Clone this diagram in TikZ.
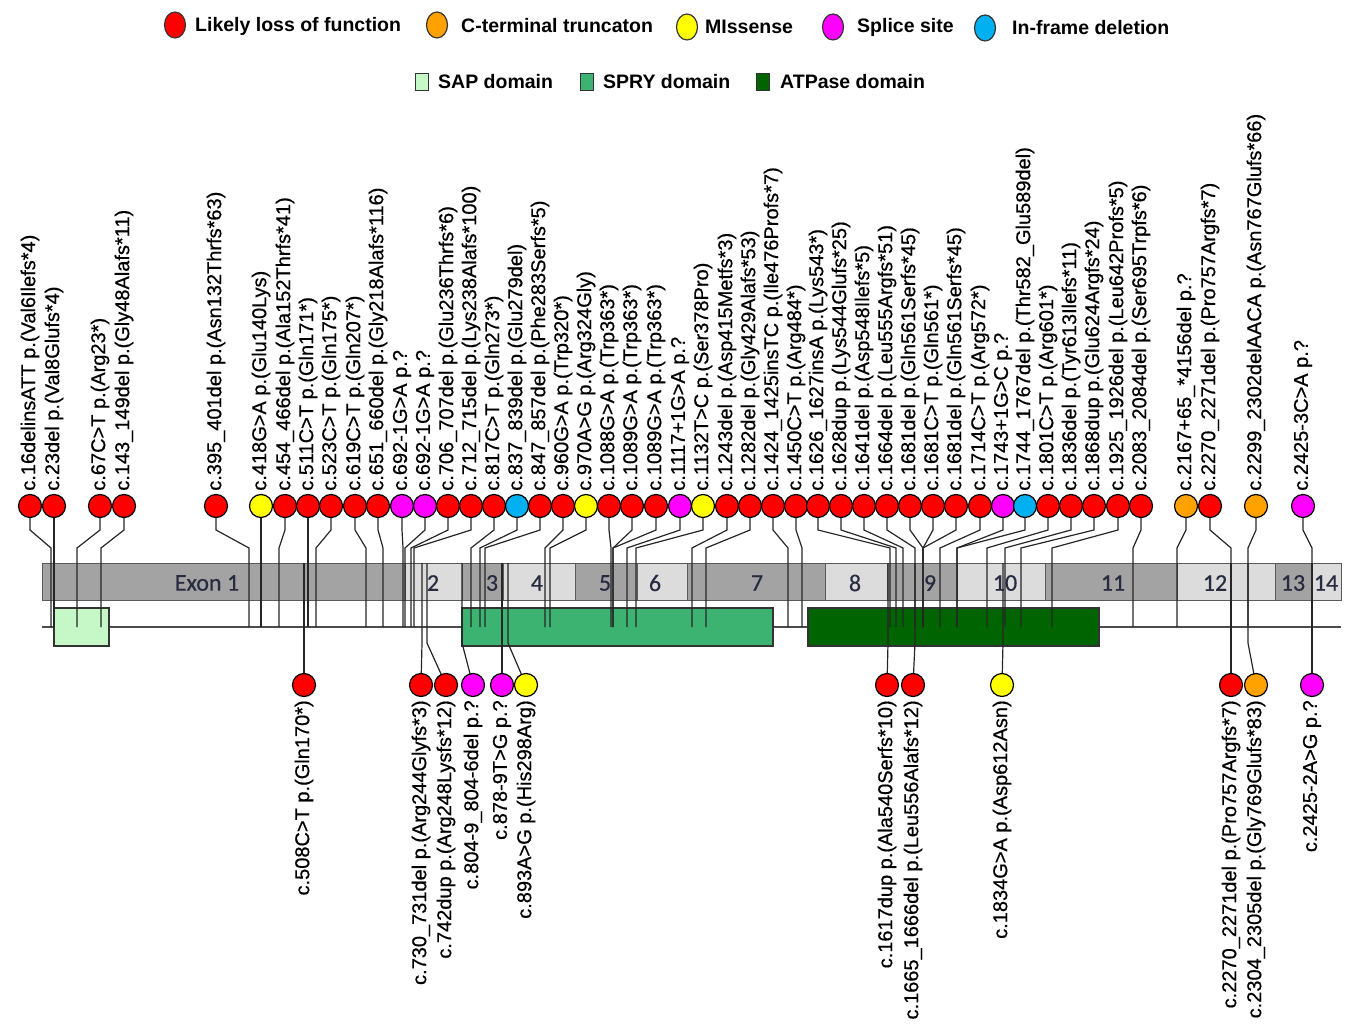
\documentclass[tikz,border=0pt]{standalone}
\usepackage{fontspec}
\setmainfont{Liberation Sans}
\newfontfamily\labfont[FakeBold=0.6]{Liberation Sans}
\newfontfamily\exonfont[FakeBold=0.4]{Carlito}
\usetikzlibrary{shapes.geometric}
\definecolor{lof}{HTML}{FF0000}
\definecolor{ctt}{HTML}{FFA200}
\definecolor{mis}{HTML}{FFFF00}
\definecolor{spl}{HTML}{FF00FF}
\definecolor{ifd}{HTML}{00B0F0}
\definecolor{sapgreen}{HTML}{C6F7C6}
\definecolor{sprygreen}{HTML}{3CB371}
\definecolor{atpgreen}{HTML}{006400}
\definecolor{exdark}{HTML}{A3A3A3}
\definecolor{exlight}{HTML}{DCDCDC}
\definecolor{exedge}{HTML}{5A5A5A}
\definecolor{exink}{HTML}{262B40}
\pgfdeclarelayer{bars}
\pgfdeclarelayer{links}
\pgfsetlayers{bars,links,main}
\newcommand\mutfont{\labfont\fontsize{20}{24}\selectfont}
\newcommand\legfont{\fontsize{19.5}{23}\selectfont\bfseries}
\begin{document}
\begin{tikzpicture}[x=1pt, y=-1pt,
    mut/.style={circle, draw=black, line width=1.2pt, minimum size=23pt, inner sep=0pt},
    toplab/.style={rotate=90, anchor=west, inner sep=0pt, font=\mutfont},
    botlab/.style={rotate=90, anchor=east, inner sep=0pt, font=\mutfont},
    link/.style={draw=black!85, line width=1.2pt},
    exonlab/.style={font=\exonfont\fontsize{24}{28}\selectfont, text=exink, inner sep=0pt},
    legdot/.style={ellipse, draw=black!80, line width=1.2pt, minimum width=21pt,
                   minimum height=26pt, inner sep=0pt},
    legbox/.style={rectangle, draw=black!80, line width=1.2pt, minimum width=13pt,
                   minimum height=17pt, inner sep=0pt},
    legtext/.style={anchor=west, inner sep=0pt, font=\legfont}]
  \useasboundingbox (0,0) rectangle (1346,1024);

  % legend
  \node[legdot, fill=lof] (dlof) at (175,25) {};
  \node[legtext] (tlof) at (195,26) {Likely loss of function};
  \node[legdot, fill=ctt] (dctt) at (437,25) {};
  \node[legtext] (tctt) at (461,26) {C-terminal truncaton};
  \node[legdot, fill=mis] (dmis) at (687,27) {};
  \node[legtext] (tmis) at (705,27) {MIssense};
  \node[legdot, fill=spl] (dspl) at (833,27) {};
  \node[legtext] (tspl) at (857,27) {Splice site};
  \node[legdot, fill=ifd] (difd) at (985,28) {};
  \node[legtext] (tifd) at (1012,28) {In-frame deletion};
  \node[legbox, fill=sapgreen] (bsap) at (422,82) {};
  \node[legtext] (tsap) at (438,82) {SAP domain};
  \node[legbox, fill=sprygreen] (bspry) at (587,82) {};
  \node[legtext] (tspry) at (603,82) {SPRY domain};
  \node[legbox, fill=atpgreen] (batp) at (763,82) {};
  \node[legtext] (tatp) at (780,82) {ATPase domain};

  % exons and domains
  \begin{pgfonlayer}{bars}
    \draw[line width=1.2pt, draw=black!70] (42,627) -- (1341,627);
    \foreach \k/\a/\b/\sh/\lx/\lab in {1/42/405/exdark/207/{Exon 1}, 2/405/462/exlight/433/2,
        3/462/503/exdark/492/3, 4/503/575/exlight/537/4, 5/575/637/exdark/605/5,
        6/637/687/exlight/655/6, 7/687/825/exdark/757/7, 8/825/887/exlight/855/8,
        9/887/957/exdark/930/9, 10/957/1045/exlight/1005/10, 11/1045/1177/exdark/1113/11,
        12/1177/1275/exlight/1215/12, 13/1275/1312/exdark/1293/13, 14/1312/1341/exlight/1326/14}{
      \filldraw[fill=\sh, draw=exedge, line width=0.8pt] (\a,563) rectangle (\b,600);
      \node[exonlab] (ex\k) at (\lx,583) {\lab};
    }
    \filldraw[fill=sapgreen, draw=black!80, line width=1.2pt] (54,608) rectangle (109,646);
    \filldraw[fill=sprygreen, draw=black!80, line width=1.2pt] (462,608) rectangle (773,646);
    \filldraw[fill=atpgreen, draw=black!80, line width=1.2pt] (808,608) rectangle (1099,646);
  \end{pgfonlayer}

  % variants above the gene
  \foreach \i/\x/\xb/\col/\txt in {
      1/30/51/lof/{c.16delinsATT p.(Val6Ilefs*4)},
      2/54/54/lof/{c.23del p.(Val8Glufs*4)},
      3/100/77/lof/{c.67C>T p.(Arg23*)},
      4/124/101/lof/{c.143\_149del p.(Gly48Alafs*11)},
      5/216/249/lof/{c.395\_401del p.(Asn132Thrfs*63)},
      6/261/261/mis/{c.418G>A p.(Glu140Lys)},
      7/285/279/lof/{c.454\_466del p.(Ala152Thrfs*41)},
      8/308/308/lof/{c.511C>T p.(Gln171*)},
      9/331/316/lof/{c.523C>T p.(Gln175*)},
      10/355/366/lof/{c.619C>T p.(Gln207*)},
      11/378/383/lof/{c.651\_660del p.(Gly218Alafs*116)},
      12/402/403/spl/{c.692-1G>A p.?},
      13/425/405/spl/{c.692-1G>A p.?},
      14/448/411/lof/{c.706\_707del p.(Glu236Thrfs*6)},
      15/471/414/lof/{c.712\_715del p.(Lys238Alafs*100)},
      16/494/471/lof/{c.817C>T p.(Gln273*)},
      17/517/480/ifd/{c.837\_839del p.(Glu279del)},
      18/540/485/lof/{c.847\_857del p.(Phe283Serfs*5)},
      19/563/545/lof/{c.960G>A p.(Trp320*)},
      20/586/550/mis/{c.970A>G p.(Arg324Gly)},
      21/609/611/lof/{c.1088G>A p.(Trp363*)},
      22/632/613/lof/{c.1089G>A p.(Trp363*)},
      23/656/613/lof/{c.1089G>A p.(Trp363*)},
      24/680/627/spl/{c.1117+1G>A p.?},
      25/703/636/mis/{c.1132T>C p.(Ser378Pro)},
      26/727/692/lof/{c.1243del p.(Asp415Metfs*3)},
      27/750/706/lof/{c.1282del p.(Gly429Alafs*53)},
      28/773/788/lof/{c.1424\_1425insTC p.(Ile476Profs*7)},
      29/796/802/lof/{c.1450C>T p.(Arg484*)},
      30/818/890/lof/{c.1626\_1627insA p.(Lys543*)},
      31/841/896/lof/{c.1628dup p.(Lys544Glufs*25)},
      32/864/903/lof/{c.1641del p.(Asp548Ilefs*5)},
      33/887/915/lof/{c.1664del p.(Leu555Argfs*51)},
      34/910/923/lof/{c.1681del p.(Gln561Serfs*45)},
      35/933/923/lof/{c.1681C>T p.(Gln561*)},
      36/956/923/lof/{c.1681del p.(Gln561Serfs*45)},
      37/980/940/lof/{c.1714C>T p.(Arg572*)},
      38/1003/957/spl/{c.1743+1G>C p.?},
      39/1025/957/ifd/{c.1744\_1767del p.(Thr582\_Glu589del)},
      40/1048/987/lof/{c.1801C>T p.(Arg601*)},
      41/1071/1005/lof/{c.1836del p.(Tyr613Ilefs*11)},
      42/1094/1021/lof/{c.1868dup p.(Glu624Argfs*24)},
      43/1118/1052/lof/{c.1925\_1926del p.(Leu642Profs*5)},
      44/1141/1133/lof/{c.2083\_2084del p.(Ser695Trpfs*6)},
      45/1186/1177/ctt/{c.2167+65\_*4156del p.?},
      46/1210/1231/lof/{c.2270\_2271del p.(Pro757Argfs*7)},
      47/1256/1248/ctt/{c.2299\_2302delAACA p.(Asn767Glufs*66)},
      48/1303/1312/spl/{c.2425-3C>A p.?}}{
    \node[mut, fill=\col] (t\i) at (\x,506) {};
    \node[toplab] (tl\i) at ([yshift=3pt]t\i.north) {\txt};
    \coordinate (p\i) at (\xb,627);
    \begin{pgfonlayer}{links}
      \draw[link] (t\i.center) -- (\x,530) -- (\xb,548) -- (p\i);
    \end{pgfonlayer}
  }

  % variants below the gene
  \foreach \j/\x/\xq/\col/\txt in {
      1/304/304/lof/{c.508C>T p.(Gln170*)},
      2/421/422/lof/{c.730\_731del p.(Arg244Glyfs*3)},
      3/446/427/lof/{c.742dup p.(Arg248Lysfs*12)},
      4/473/462/spl/{c.804-9\_804-6del p.?},
      5/502/502/spl/{c.878-9T>G p.?},
      6/526/508/mis/{c.893A>G p.(His298Arg)},
      7/887/888/lof/{c.1617dup p.(Ala540Serfs*10)},
      8/913/915/lof/{c.1665\_1666del p.(Leu556Alafs*12)},
      9/1002/1003/mis/{c.1834G>A p.(Asp612Asn)},
      10/1231/1231/lof/{c.2270\_2271del p.(Pro757Argfs*7)},
      11/1256/1248/ctt/{c.2304\_2305del p.(Gly769Glufs*83)},
      12/1312/1312/spl/{c.2425-2A>G p.?}}{
    \node[mut, fill=\col] (b\j) at (\x,685) {};
    \node[botlab] (bl\j) at ([yshift=-3pt]b\j.south) {\txt};
    \coordinate (q\j) at (\xq,563);
    \begin{pgfonlayer}{links}
      \draw[link] (q\j) -- (\xq,643) -- (b\j.center);
    \end{pgfonlayer}
  }
\end{tikzpicture}
\end{document}
